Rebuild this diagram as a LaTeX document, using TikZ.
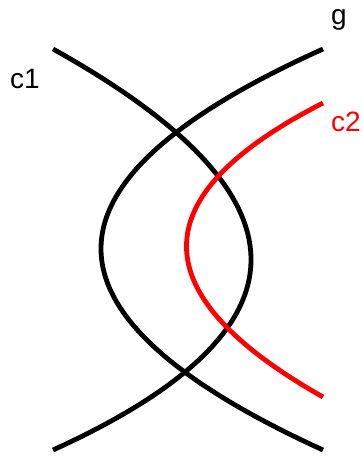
\documentclass[tikz,border=0pt]{standalone}
\usepackage{fontspec}
\setmainfont{Liberation Sans}
\begin{document}
\begin{tikzpicture}[x=1pt,y=-1pt]
\useasboundingbox (0,0) rectangle (363,459);
\tikzset{curve/.style={line width=4.8pt, black}, lbl/.style={inner sep=0pt, font=\fontsize{28}{32}\selectfont}}
\coordinate (c1a) at (53,49);
\coordinate (c1b) at (53,450);
\coordinate (ga) at (323,49);
\coordinate (gb) at (323,450);
\coordinate (c2a) at (323,103);
\coordinate (c2b) at (323,397);
\draw[curve] (c1a) .. controls (317,196) and (317,330) .. (c1b);
\draw[curve] (ga) .. controls (27,182) and (27,315) .. (gb);
\draw[curve, red] (c2a) .. controls (141,196) and (141,294) .. (c2b);
\node[lbl] (c1) at (25,79) {c1};
\node[lbl] (g) at (339,20) {g};
\node[lbl, red] (c2) at (346,122) {c2};
\end{tikzpicture}
\end{document}
